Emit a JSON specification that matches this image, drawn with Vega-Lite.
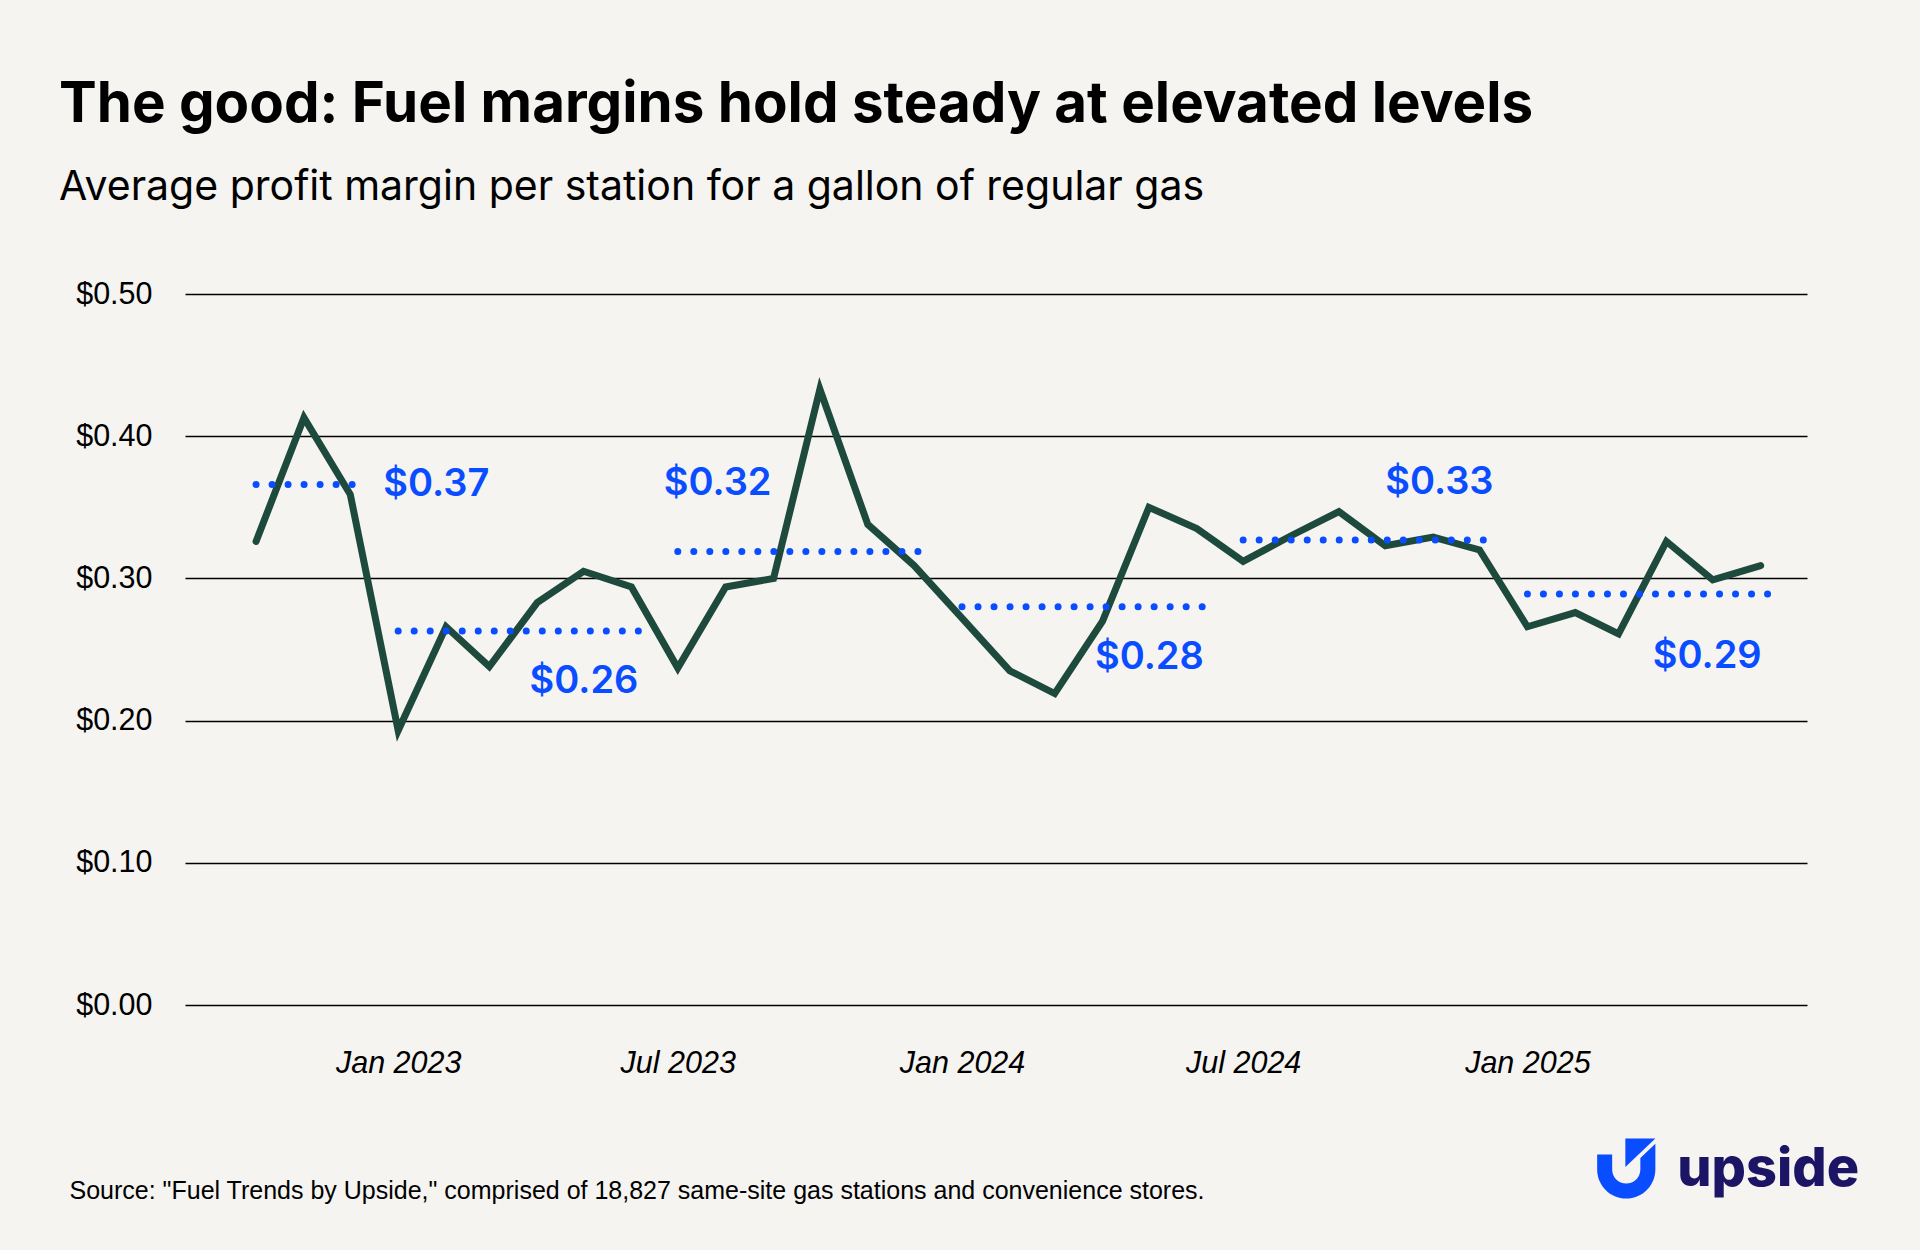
{
  "$schema": "https://vega.github.io/schema/vega-lite/v6.json",
  "width": 1622,
  "height": 711,
  "autosize": {"type": "none"},
  "padding": {"left": 185, "top": 294, "right": 113, "bottom": 245},
  "background": "#f5f4f0",
  "title": {
    "text": "The good: Fuel margins hold steady at elevated levels",
    "subtitle": "Average profit margin per station for a gallon of regular gas",
    "anchor": "start",
    "frame": "group",
    "dx": -126,
    "offset": 71,
    "font": "Inter",
    "fontSize": 56.5,
    "fontWeight": 700,
    "color": "#000000",
    "subtitleFont": "Inter",
    "subtitleFontSize": 41,
    "subtitleFontWeight": 400,
    "subtitleColor": "#000000",
    "subtitlePadding": 35
  },
  "config": {
    "view": {"stroke": null},
    "axis": {"domain": false, "ticks": false}
  },
  "datasets": {
    "margins": [
      {"month": "2022-10-01", "margin": 0.326},
      {"month": "2022-11-01", "margin": 0.413},
      {"month": "2022-12-01", "margin": 0.359},
      {"month": "2023-01-01", "margin": 0.193},
      {"month": "2023-02-01", "margin": 0.266},
      {"month": "2023-03-01", "margin": 0.238},
      {"month": "2023-04-01", "margin": 0.283},
      {"month": "2023-05-01", "margin": 0.305},
      {"month": "2023-06-01", "margin": 0.294},
      {"month": "2023-07-01", "margin": 0.237},
      {"month": "2023-08-01", "margin": 0.294},
      {"month": "2023-09-01", "margin": 0.300},
      {"month": "2023-10-01", "margin": 0.433},
      {"month": "2023-11-01", "margin": 0.338},
      {"month": "2023-12-01", "margin": 0.309},
      {"month": "2024-01-01", "margin": 0.272},
      {"month": "2024-02-01", "margin": 0.235},
      {"month": "2024-03-01", "margin": 0.219},
      {"month": "2024-04-01", "margin": 0.270},
      {"month": "2024-05-01", "margin": 0.350},
      {"month": "2024-06-01", "margin": 0.335},
      {"month": "2024-07-01", "margin": 0.312},
      {"month": "2024-08-01", "margin": 0.330},
      {"month": "2024-09-01", "margin": 0.347},
      {"month": "2024-10-01", "margin": 0.323},
      {"month": "2024-11-01", "margin": 0.329},
      {"month": "2024-12-01", "margin": 0.320},
      {"month": "2025-01-01", "margin": 0.266},
      {"month": "2025-02-01", "margin": 0.276},
      {"month": "2025-03-01", "margin": 0.261},
      {"month": "2025-04-01", "margin": 0.326},
      {"month": "2025-05-01", "margin": 0.299},
      {"month": "2025-06-01", "margin": 0.309}
    ],
    "averages": [
      {"period": "H2 2022", "start": "2022-10-01", "end": "2022-12-01", "avg": 0.366},
      {"period": "H1 2023", "start": "2023-01-01", "end": "2023-06-01", "avg": 0.263},
      {"period": "H2 2023", "start": "2023-07-01", "end": "2023-12-01", "avg": 0.319},
      {"period": "H1 2024", "start": "2024-01-01", "end": "2024-06-01", "avg": 0.280},
      {"period": "H2 2024", "start": "2024-07-01", "end": "2024-12-01", "avg": 0.327},
      {"period": "H1 2025", "start": "2025-01-01", "end": "2025-06-01", "avg": 0.289}
    ]
  },
  "encoding": {
    "x": {
      "type": "temporal",
      "scale": {
        "type": "utc",
        "domain": [
          {"year": 2022, "month": 8, "date": 16, "utc": true},
          {"year": 2025, "month": 7, "date": 1, "utc": true}
        ]
      },
      "axis": {
        "values": [
          {"year": 2023, "month": 1, "date": 1, "utc": true},
          {"year": 2023, "month": 7, "date": 1, "utc": true},
          {"year": 2024, "month": 1, "date": 1, "utc": true},
          {"year": 2024, "month": 7, "date": 1, "utc": true},
          {"year": 2025, "month": 1, "date": 1, "utc": true}
        ],
        "labelExpr": "utcFormat(datum.value, '%b %Y')",
        "grid": false,
        "labelFont": "Liberation Sans",
        "labelFontSize": 30.5,
        "labelFontStyle": "italic",
        "labelColor": "#000000",
        "labelPadding": 43,
        "title": "Source: \"Fuel Trends by Upside,\" comprised of 18,827 same-site gas stations and convenience stores.",
        "titleFont": "Liberation Sans",
        "titleFontSize": 25,
        "titleFontWeight": "normal",
        "titleColor": "#000000",
        "titleAnchor": "start",
        "titleAlign": "left",
        "titleBaseline": "alphabetic",
        "titleX": -116,
        "titleY": 193
      }
    },
    "y": {
      "type": "quantitative",
      "scale": {"domain": [0, 0.5], "nice": false, "zero": true},
      "axis": {
        "values": [0, 0.1, 0.2, 0.3, 0.4, 0.5],
        "format": "$.2f",
        "grid": true,
        "gridColor": "#000000",
        "gridWidth": 1.3,
        "labelFont": "Liberation Sans",
        "labelFontSize": 30.5,
        "labelColor": "#000000",
        "labelPadding": 33,
        "title": null
      }
    }
  },
  "layer": [
    {
      "data": {"name": "margins"},
      "mark": {"type": "line", "color": "#1e4a3e", "strokeWidth": 7, "strokeCap": "round", "strokeJoin": "miter"},
      "encoding": {
        "x": {"field": "month", "type": "temporal"},
        "y": {"field": "margin", "type": "quantitative"}
      }
    },
    {
      "data": {"name": "averages"},
      "mark": {"type": "rule", "color": "#0a4cff", "strokeWidth": 7, "strokeCap": "round", "strokeDash": [0.01, 16], "x2Offset": 8},
      "encoding": {
        "x": {"field": "start", "type": "temporal"},
        "x2": {"field": "end"},
        "y": {"field": "avg", "type": "quantitative"}
      }
    },
    {
      "data": {"name": "averages"},
      "transform": [{"filter": {"field": "period", "equal": "H2 2022"}}],
      "mark": {"type": "text", "align": "left", "baseline": "middle", "dx": 33, "dy": 0, "font": "Inter", "fontSize": 38, "fontWeight": 600, "color": "#0a4cff"},
      "encoding": {
        "x": {"field": "end", "type": "temporal"},
        "y": {"field": "avg", "type": "quantitative"},
        "text": {"field": "avg", "type": "quantitative", "format": "$.2f"}
      }
    },
    {
      "data": {"name": "averages"},
      "transform": [{"filter": {"field": "period", "equal": "H2 2023"}}],
      "mark": {"type": "text", "align": "left", "baseline": "middle", "dx": -14, "dy": -67, "font": "Inter", "fontSize": 38, "fontWeight": 600, "color": "#0a4cff"},
      "encoding": {
        "x": {"field": "start", "type": "temporal"},
        "y": {"field": "avg", "type": "quantitative"},
        "text": {"field": "avg", "type": "quantitative", "format": "$.2f"}
      }
    },
    {
      "data": {"name": "averages"},
      "transform": [{"filter": {"field": "period", "oneOf": ["H1 2023", "H1 2024"]}}],
      "mark": {"type": "text", "align": "right", "baseline": "middle", "dx": 7, "dy": 51, "font": "Inter", "fontSize": 38, "fontWeight": 600, "color": "#0a4cff"},
      "encoding": {
        "x": {"field": "end", "type": "temporal"},
        "y": {"field": "avg", "type": "quantitative"},
        "text": {"field": "avg", "type": "quantitative", "format": "$.2f"}
      }
    },
    {
      "data": {"name": "averages"},
      "transform": [{"filter": {"field": "period", "equal": "H1 2025"}}],
      "mark": {"type": "text", "align": "right", "baseline": "middle", "dx": 1, "dy": 63, "font": "Inter", "fontSize": 38, "fontWeight": 600, "color": "#0a4cff"},
      "encoding": {
        "x": {"field": "end", "type": "temporal"},
        "y": {"field": "avg", "type": "quantitative"},
        "text": {"field": "avg", "type": "quantitative", "format": "$.2f"}
      }
    },
    {
      "data": {"name": "averages"},
      "transform": [{"filter": {"field": "period", "equal": "H2 2024"}}],
      "mark": {"type": "text", "align": "right", "baseline": "middle", "dx": 14, "dy": -57, "font": "Inter", "fontSize": 38, "fontWeight": 600, "color": "#0a4cff"},
      "encoding": {
        "x": {"field": "end", "type": "temporal"},
        "y": {"field": "avg", "type": "quantitative"},
        "text": {"field": "avg", "type": "quantitative", "format": "$.2f"}
      }
    },
    {
      "data": {"values": [{"logo": "upside"}]},
      "mark": {
        "type": "point",
        "shape": "M -0.97 -0.47 L -0.47 -0.47 L -0.47 0.03 A 0.47 0.47 0 0 0 0.47 0.03 L 0.47 -0.35 L 0.97 -0.83 L 0.97 0.03 A 0.97 0.97 0 0 1 -0.97 0.03 Z M -0.03 -1 L 0.97 -1 L -0.03 -0.05 Z",
        "filled": true,
        "color": "#0a4cff",
        "opacity": 1,
        "size": 3600,
        "strokeWidth": 0
      },
      "encoding": {
        "x": {"datum": {"year": 2025, "month": 3, "date": 6, "utc": true}, "type": "temporal"},
        "y": {"datum": -0.115, "type": "quantitative"}
      }
    },
    {
      "data": {"values": [{"logo": "upside"}]},
      "mark": {"type": "text", "align": "left", "baseline": "alphabetic", "font": "Inter", "fontSize": 54, "fontWeight": 800, "color": "#1c1464"},
      "encoding": {
        "x": {"datum": {"year": 2025, "month": 4, "date": 8, "utc": true}, "type": "temporal"},
        "y": {"datum": -0.127, "type": "quantitative"},
        "text": {"field": "logo", "type": "nominal"}
      }
    }
  ]
}
